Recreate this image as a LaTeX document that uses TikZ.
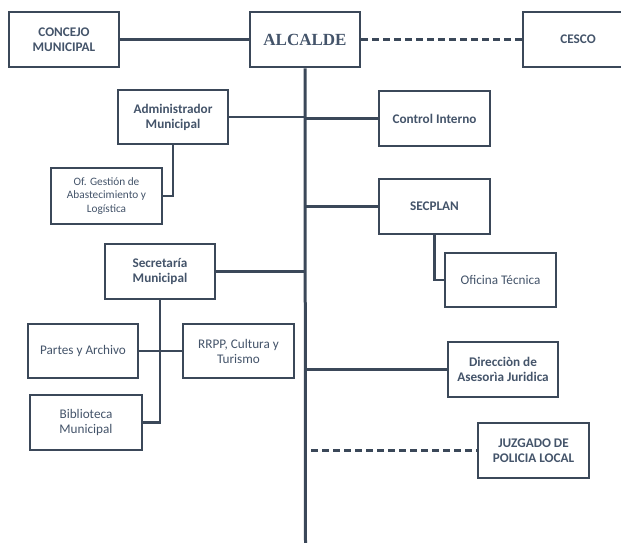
\documentclass[tikz,border=0pt]{standalone}
\usepackage{fontspec}
\setmainfont{Carlito}
\newfontfamily\titlefont{Liberation Serif}
\usetikzlibrary{calc}
\definecolor{txt}{HTML}{44546A}
\definecolor{ln}{HTML}{3B4859}
\tikzset{
  box/.style={draw=ln, line width=2.6pt, fill=white, inner sep=0pt, align=center,
    minimum width=110pt, minimum height=55pt, text=txt},
  bx/.style={box, font=\fontsize{13.2}{15}\selectfont\bfseries},
  rx/.style={box, font=\fontsize{13.2}{15}\selectfont},
  sx/.style={box, font=\fontsize{11.3}{13.5}\selectfont},
  conn/.style={draw=ln, line width=2.6pt},
  dconn/.style={draw=ln, line width=2.6pt, dash pattern=on 7pt off 4pt},
}
\begin{document}
\begin{tikzpicture}[x=1pt, y=-1pt]
\useasboundingbox (0,0) rectangle (621,542);
\begin{scope}
\clip (0,0) rectangle (621,542);
% trunk
\coordinate (tb) at (305.5,544);
\node[box, minimum width=110pt] (alcalde) at (305,39.5) {};
\draw[draw=ln, line width=3pt] (alcalde.south) -- (tb);
\node[bx] (concejo) at (64,39.5) {CONCEJO\\MUNICIPAL};
\node[box, font=\titlefont\fontsize{17}{19}\selectfont\bfseries] (alcalde) at (305,39.5) {ALCALDE};
\node[bx] (cesco) at (578,39.5) {CESCO};
\node[bx, minimum height=54pt] (admin) at (173,117) {Administrador\\Municipal};
\node[sx, minimum width=111pt, minimum height=56pt] (ofg) at (106.5,196) {Of. Gestión de\\Abastecimiento y\\Logística};
\node[bx, minimum width=111pt] (control) at (434.5,118.5) {Control Interno};
\node[bx, minimum width=111pt] (secplan) at (434.5,206.5) {SECPLAN};
\node[rx, minimum width=111pt, minimum height=54pt] (oficina) at (500.5,280) {Oficina Técnica};
\node[bx] (secretaria) at (160,271.5) {Secretaría\\Municipal};
\node[rx, minimum height=54pt] (partes) at (83,351) {Partes y Archivo};
\node[rx, minimum width=111pt, minimum height=54pt] (rrpp) at (238.5,351) {RRPP, Cultura y\\Turismo};
\node[rx, minimum width=112pt] (biblio) at (86,422.5) {Biblioteca\\Municipal};
\node[bx] (direccion) at (503,369.5) {Direcciòn de\\Asesorìa Juridica};
\node[bx, minimum width=111pt] (juzgado) at (533.5,450.5) {JUZGADO DE\\POLICIA LOCAL};
\coordinate (jz) at (311,450.5);
% connectors
\draw[conn] (concejo.east) -- (alcalde.west);
\draw[dconn] (alcalde.east) -- (cesco.west);
\draw[conn] (admin.east) -- (admin.east -| tb);
\draw[conn] (admin.south) |- (ofg.east);
\draw[conn] (control.west) -- (control.west -| tb);
\draw[conn] (secplan.west) -- (secplan.west -| tb);
\draw[conn] (secplan.south) |- (oficina.west);
\draw[conn] (secretaria.east) -- (secretaria.east -| tb);
\draw[conn] (secretaria.south) |- (biblio.east);
\draw[conn] (partes.east) -- (rrpp.west);
\draw[conn] (direccion.west) -- (direccion.west -| tb);
\draw[dconn] (jz) -- (juzgado.west);
\end{scope}
\end{tikzpicture}
\end{document}
